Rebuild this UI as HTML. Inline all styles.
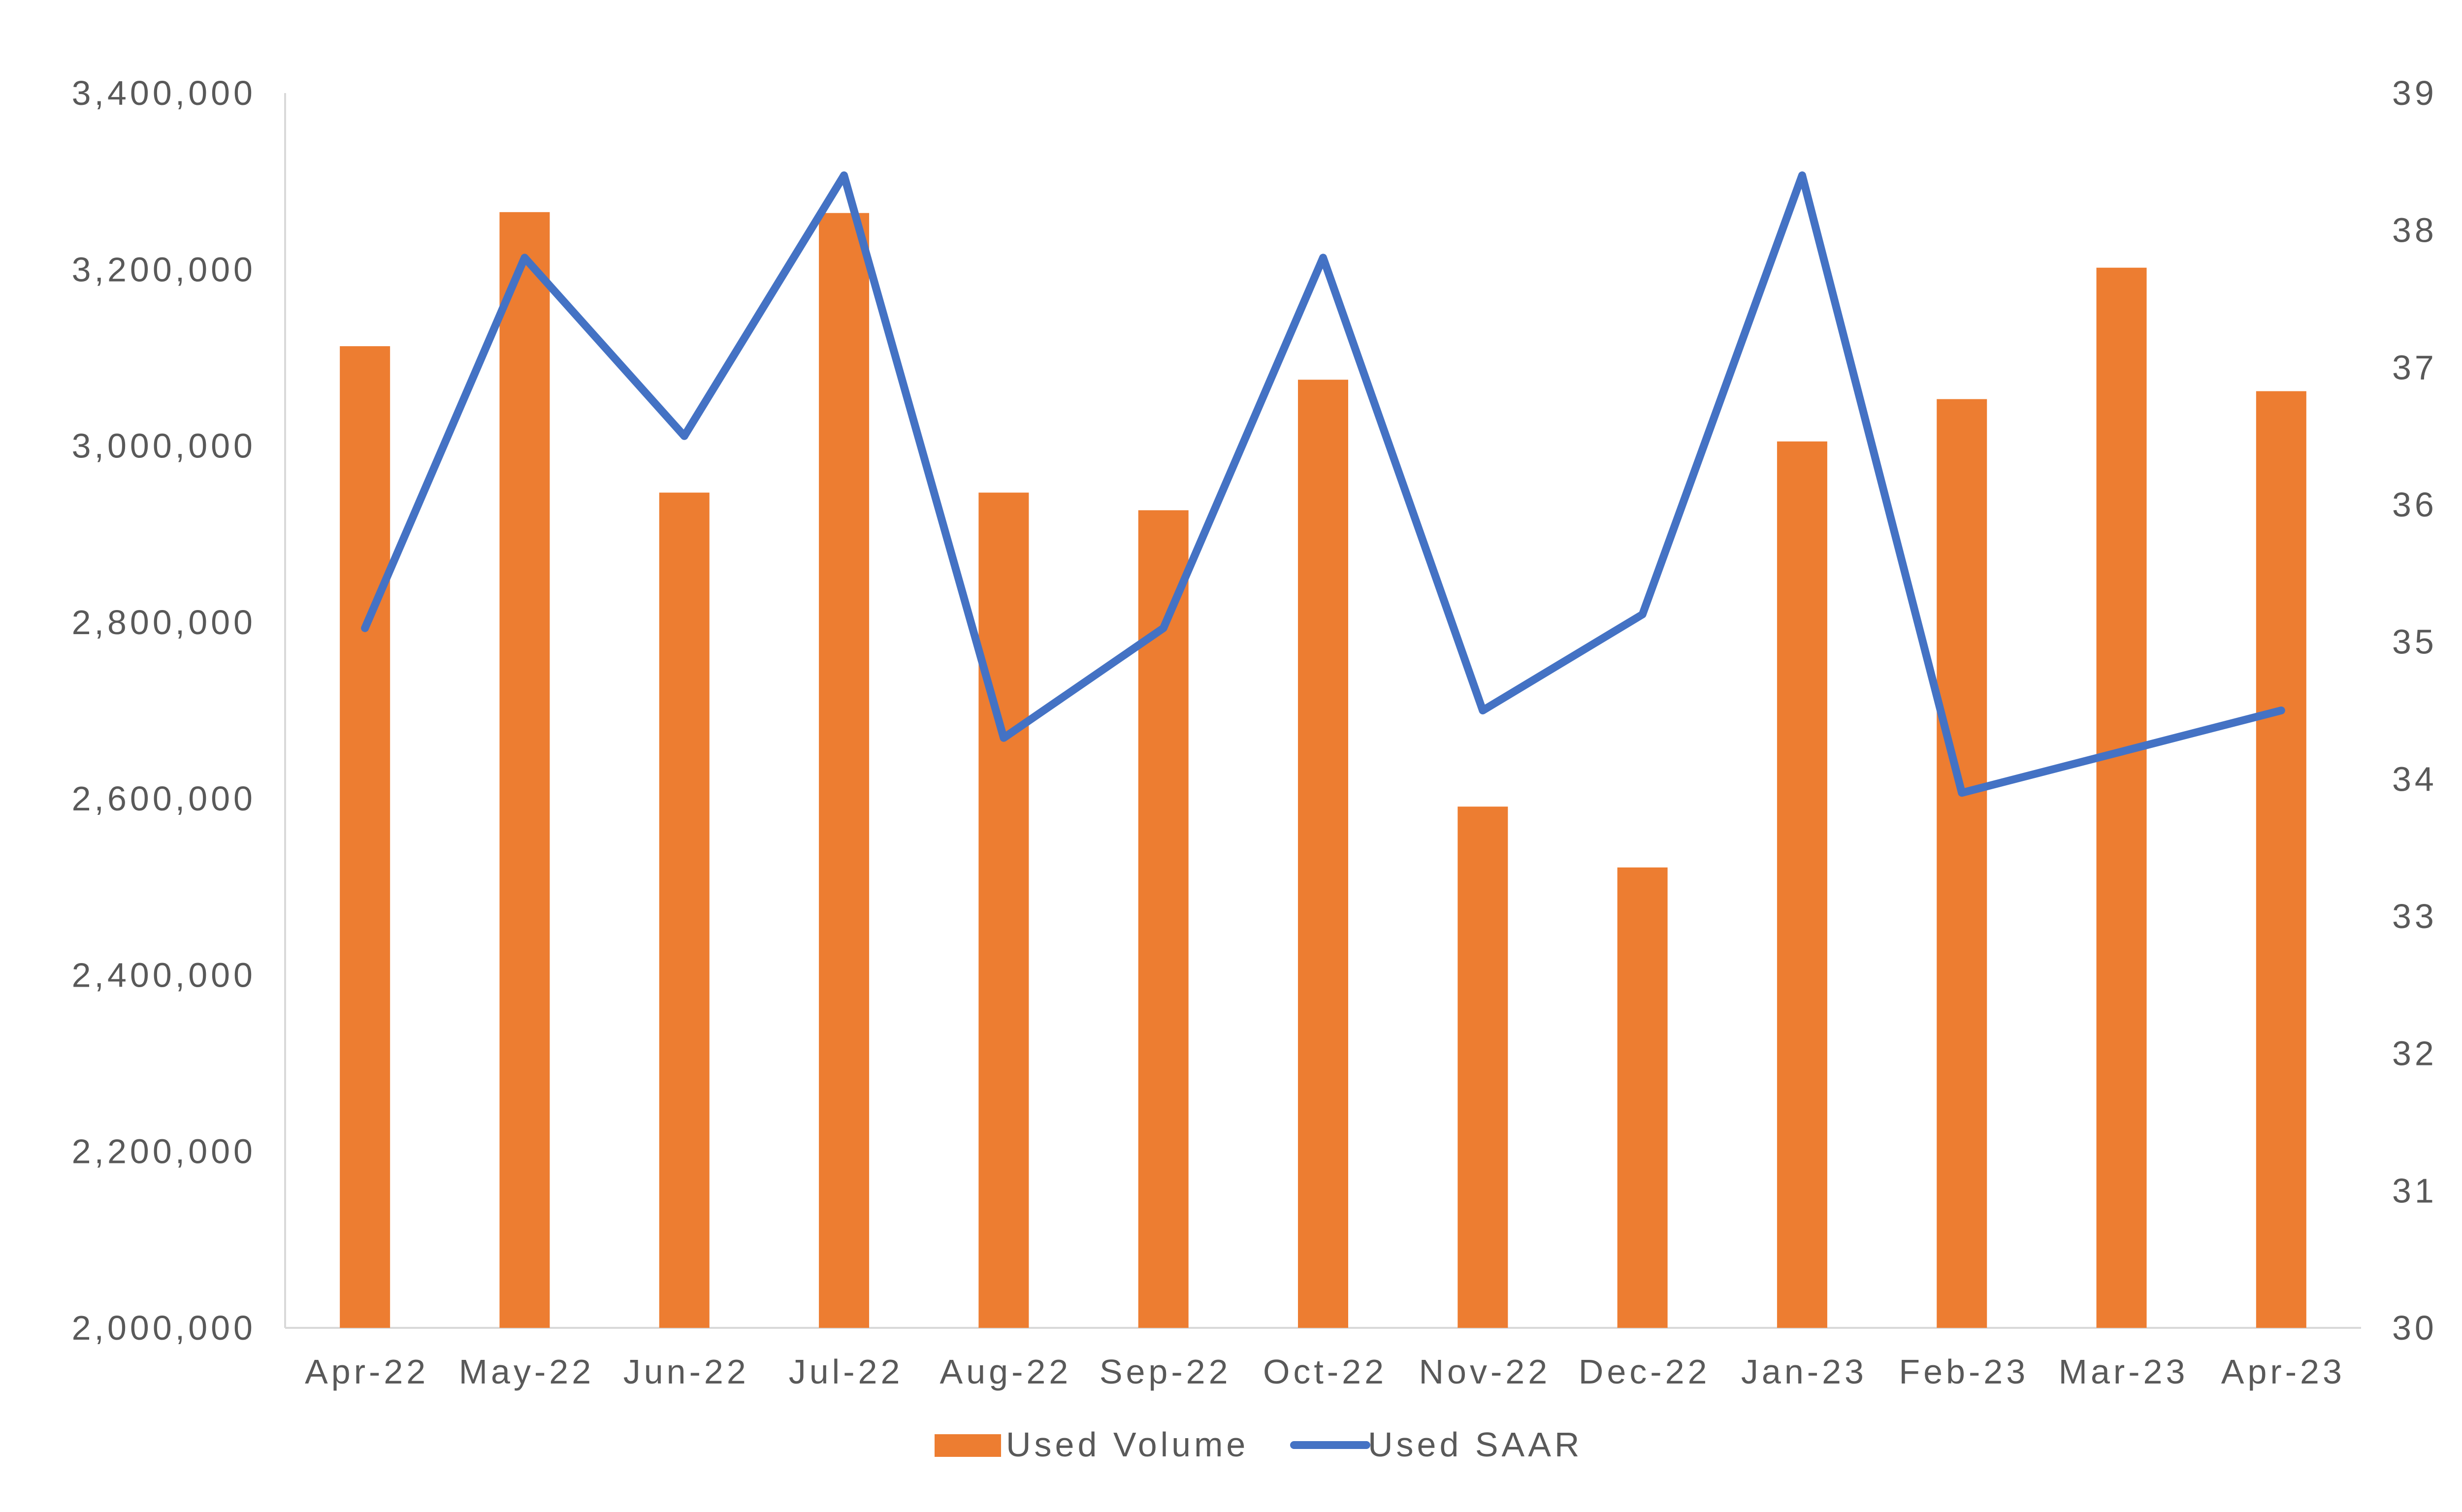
<!DOCTYPE html>
<html><head><meta charset="utf-8"><style>
html,body{margin:0;padding:0;background:#fff;}
svg text{font-family:"Liberation Sans",sans-serif;fill:#595959;letter-spacing:7px;}
</style></head><body>
<svg id="chart" width="5052" height="3066" viewBox="0 0 5052 3066" xmlns="http://www.w3.org/2000/svg">
<rect width="5052" height="3066" fill="#fff"/>
<g id="axes"></g><g id="bars"></g><g id="line"></g><g id="legend"></g>
</svg>
<script>
const categories=["Apr-22","May-22","Jun-22","Jul-22","Aug-22","Sep-22","Oct-22","Nov-22","Dec-22","Jan-23","Feb-23","Mar-23","Apr-23"];
const usedVolume=[3113000,3265000,2947000,3264000,2947000,2927000,3075000,2591000,2522000,3005000,3053000,3202000,3062000];
const usedSaar=[35.1,37.8,36.5,38.4,34.3,35.1,37.8,34.5,35.2,38.4,33.9,34.2,34.5];
const leftTicks=[2000000,2200000,2400000,2600000,2800000,3000000,3200000,3400000];
const rightTicks=[30,31,32,33,34,35,36,37,38,39];
const NS="http://www.w3.org/2000/svg";
const L=579,R=4795,T=189,B=2697;
const yL=v=>B-(v-2000000)/1400000*(B-T);
const yR=v=>B-(v-30)/9*(B-T);
const step=(R-L)/categories.length;
const xC=i=>L+step*(i+0.5);
function mk(tag,attrs,parent){const e=document.createElementNS(NS,tag);for(const k in attrs)e.setAttribute(k,attrs[k]);document.getElementById(parent).appendChild(e);return e;}
let e;
e=mk('line',{x1:L,y1:T,x2:L,y2:B,stroke:'#d9d9d9','stroke-width':4},'axes');


e=mk('line',{x1:L,y1:B,x2:R,y2:B,stroke:'#d9d9d9','stroke-width':4},'axes');


leftTicks.forEach(v=>{const t=mk('text',{x:520,y:yL(v)+24,'text-anchor':'end','font-size':70},'axes');t.textContent=v.toLocaleString('en-US');

});
rightTicks.forEach(v=>{const t=mk('text',{x:4858,y:yR(v)+24,'font-size':70},'axes');t.textContent=v;

});
categories.forEach((c,i)=>{const t=mk('text',{x:xC(i)+4,y:2810,'text-anchor':'middle','font-size':70},'axes');t.textContent=c;

});
const bw=102;
usedVolume.forEach((v,i)=>{const r=mk('rect',{x:xC(i)-bw/2,y:yL(v),width:bw,height:B-yL(v),fill:'#ED7D31'},'bars');

});
const pl=mk('polyline',{points:usedSaar.map((v,i)=>xC(i)+','+yR(v)).join(' '),fill:'none',stroke:'#4472C4','stroke-width':16,'stroke-linejoin':'round','stroke-linecap':'round'},'line');


e=mk('rect',{x:1898,y:2913,width:135,height:46,fill:'#ED7D31'},'legend');


e=mk('text',{x:2043,y:2958,'font-size':70},'legend');e.textContent='Used Volume';


e=mk('line',{x1:2628,y1:2935,x2:2775,y2:2935,stroke:'#4472C4','stroke-width':16,'stroke-linecap':'round'},'legend');


e=mk('text',{x:2778,y:2958,'font-size':70},'legend');e.textContent='Used SAAR';


</script>
</body></html>
